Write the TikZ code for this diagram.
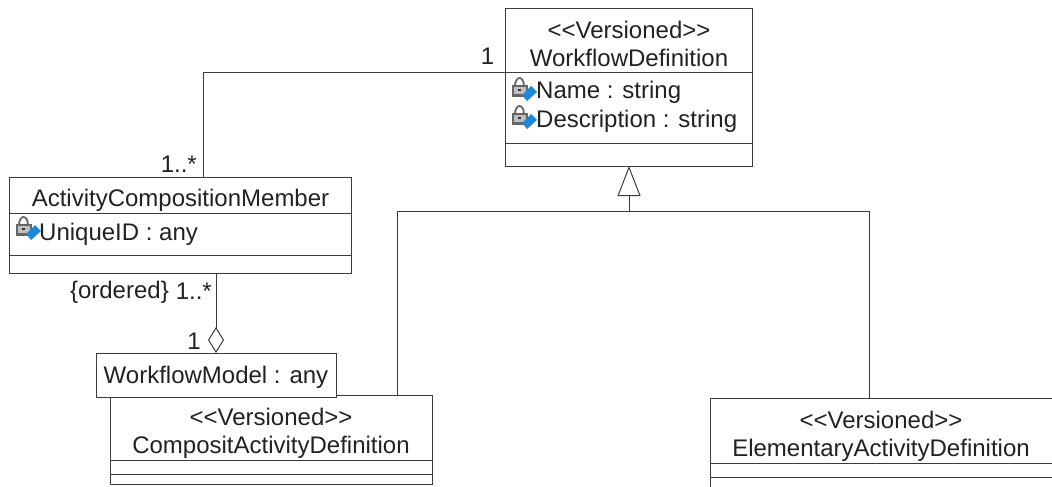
\documentclass[tikz,border=0pt]{standalone}
\usepackage{fontspec}
\usepackage{tikz}
\usepackage{xcolor}
\usetikzlibrary{arrows.meta}
\setmainfont{Liberation Sans}
\definecolor{umlline}{HTML}{3C3C3C}
\definecolor{umltext}{HTML}{222222}
\definecolor{keyblue}{HTML}{1E88D8}
\tikzset{
    part/.style={draw=umlline, line width=1pt, fill=white, inner sep=0pt, outer sep=0pt, anchor=north west},
    label/.style={text=umltext, font=\fontsize{24}{28}\selectfont, inner sep=0pt},
    link/.style={draw=umlline, line width=1pt},
}
\newcommand{\stereotype}{<{}<Versioned>{}>}
\newcommand{\lockicon}[2]{
    \draw[black!60, line width=1.8pt] (#1+3,#2+9) arc (180:360:4.5 and 8);
    \fill[black!60] (#1,#2+8) rectangle (#1+16,#2+20);
    \fill[black!25] (#1+2,#2+10) rectangle (#1+14,#2+17);
    \fill[black!80] (#1+6,#2+12) rectangle (#1+9,#2+14);
    \fill[keyblue] (#1+19,#2+9) -- (#1+25,#2+15) -- (#1+15,#2+24) -- (#1+10,#2+18) -- cycle;
}

\begin{document}
\begin{tikzpicture}[x=1pt, y=-1pt]
    \useasboundingbox (0,0) rectangle (1052,487);

    % WorkflowDefinition
    \node[part, minimum width=247pt, minimum height=64pt] (wfdeftitle) at (505.5,9) {};
    \node[label, align=center] (wfdefname) at (629,44) {\stereotype\\WorkflowDefinition};
    \node[part, minimum width=247pt, minimum height=70pt] (wfdefattrs) at (505.5,73) {};
    \node[part, minimum width=247pt, minimum height=23pt] (wfdefops) at (505.5,143) {};
    \node[label, anchor=base west] (wfdefattra) at (536,99) {Name : string};
    \node[label, anchor=base west] (wfdefattrb) at (536,127) {Description : string};
    \lockicon{512}{77}
    \lockicon{512}{105}

    % ActivityCompositionMember
    \node[part, minimum width=342pt, minimum height=36pt] (membertitle) at (9,177.5) {};
    \node[label] (membername) at (180.5,200) {ActivityCompositionMember};
    \node[part, minimum width=342pt, minimum height=41.5pt] (memberattrs) at (9,213.5) {};
    \node[part, minimum width=342pt, minimum height=18pt] (memberops) at (9,255) {};
    \node[label, anchor=base west] (memberattr) at (39,240) {UniqueID : any};
    \lockicon{16}{216}

    % CompositActivityDefinition
    \node[part, minimum width=322.5pt, minimum height=64.5pt] (comptitle) at (110,395.5) {};
    \node[label, align=center] (compname) at (271,433) {\stereotype\\CompositActivityDefinition};
    \node[part, minimum width=322.5pt, minimum height=14pt] (compattrs) at (110,460) {};
    \node[part, minimum width=322.5pt, minimum height=10pt] (compops) at (110,474) {};

    % WorkflowModel
    \node[part, minimum width=239.5pt, minimum height=44pt] (wfmodel) at (96.5,353) {};
    \node[label] (wfmodelname) at (216,377) {WorkflowModel : any};

    % ElementaryActivityDefinition (runs off the page)
    \node[part, minimum width=360pt, minimum height=65pt] (elemtitle) at (710,398) {};
    \node[label, align=center] (elemname) at (881,436) {\stereotype\\ElementaryActivityDefinition};
    \node[part, minimum width=360pt, minimum height=14pt] (elemattrs) at (710,463) {};
    \node[part, minimum width=360pt, minimum height=30pt] (elemops) at (710,477) {};

    % Association
    \coordinate (bend) at (203,72.5);
    \draw[link] (wfdeftitle.west |- bend) -- (bend) -- (membertitle.north west -| bend);
    \node[label, anchor=base] (assocone) at (487.5,65) {1};
    \node[label, anchor=base east] (assocmany) at (197,172) {1..*};

    % Aggregation
    \coordinate (wfmodeltop) at (216,353);
    \draw[link, {Diamond[open, length=26pt, width=16pt, line width=1pt]}-] (wfmodeltop) -- (memberops.south -| wfmodeltop);
    \node[label, anchor=base east] (aggordered) at (169,298) {\{ordered\}};
    \node[label, anchor=base east] (aggmany) at (212,299) {1..*};
    \node[label, anchor=base] (aggone) at (194,349) {1};

    % Generalization
    \coordinate (hub) at (629,211);
    \coordinate (hubleft) at (397,211);
    \coordinate (hubright) at (869,211);
    \draw[link, -{Triangle[open, length=30pt, width=23pt, line width=1pt]}] (wfdefops.south |- hub) -- (wfdefops.south);
    \draw[link] (comptitle.north -| hubleft) -- (hubleft) -- (hubright) -- (elemtitle.north -| hubright);
\end{tikzpicture}
\end{document}
